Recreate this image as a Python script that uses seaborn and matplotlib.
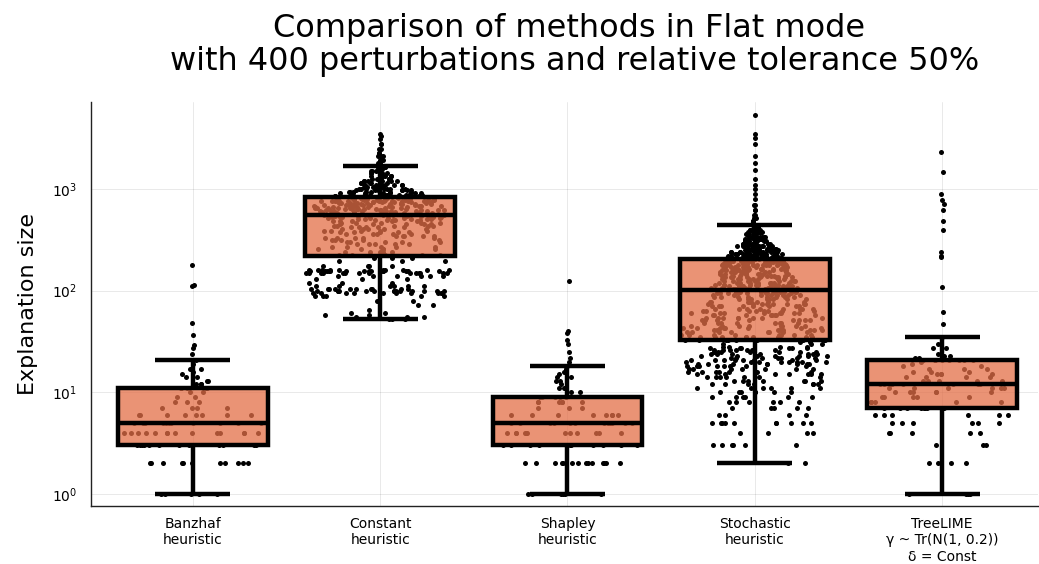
import numpy as np
import pandas as pd
import matplotlib
matplotlib.use("Agg")
import matplotlib.pyplot as plt
import seaborn as sns

# metodos comparados (rotulos do eixo x)
metodos = ["Banzhaf\nheuristic", "Constant\nheuristic", "Shapley\nheuristic",
           "Stochastic\nheuristic", "TreeLIME\nγ ~ Tr(N(1, 0.2))\nδ = Const"]

# tamanhos de explicacao: valores e quantas vezes aparecem
banzhaf_val = [1, 2, 3, 4, 5, 6, 7, 8, 9, 10, 11, 12, 13, 14, 15, 16, 17, 19, 21,
               24, 27, 29, 37, 48, 110, 115, 180]
banzhaf_cnt = [5, 11, 12, 14, 12, 8, 4, 3, 2, 2, 5, 3, 2, 2, 1, 1, 2, 1, 1,
               1, 1, 1, 1, 1, 1, 1, 1]

constant_val = [53, 55, 57, 60, 65, 72, 80, 88, 95, 100, 105, 110, 120, 130, 140,
                150, 155, 160, 175, 195, 210,
                225, 240, 255, 270, 285, 300, 315, 330, 345, 360, 375, 390, 405,
                420, 435, 450, 465, 480, 495, 510, 525, 535, 545, 550,
                560, 575, 590, 605, 620, 635, 650, 665, 680, 695, 710, 725, 740,
                755, 770, 785, 800, 820,
                850, 880, 910, 940, 970, 1000, 1050, 1100, 1150, 1200, 1270, 1350,
                1430, 1500, 1580, 1650, 1700, 1800, 1950, 2100, 2250, 2500, 2800,
                3100, 3300, 3500]
constant_cnt = [3, 3, 2, 2, 1, 2, 2, 5, 10, 14, 10, 6, 3, 3, 6,
                14, 14, 10, 4, 3, 3,
                5, 5, 5, 5, 5, 5, 5, 5, 5, 5, 5, 5, 5,
                5, 5, 5, 5, 5, 5, 5, 5, 5, 5, 5,
                6, 6, 7, 7, 7, 7, 7, 7, 7, 7, 7, 7, 7,
                7, 7, 6, 6, 5,
                8, 8, 8, 7, 7, 7, 7, 7, 6, 6, 6, 6,
                5, 5, 5, 2, 2, 3, 3, 3, 2, 2, 2,
                1, 1, 1]

shapley_val = [1, 2, 3, 4, 5, 6, 7, 8, 9, 10, 11, 12, 13, 14, 15, 16, 17, 18,
               20, 22, 25, 30, 33, 38, 40, 125]
shapley_cnt = [6, 14, 10, 12, 12, 8, 3, 6, 6, 2, 2, 1, 2, 2, 1, 1, 1, 1,
               1, 1, 1, 1, 1, 1, 1, 1]

stochastic_val = [2, 3, 4, 5, 6, 7, 8, 9, 10, 11, 12, 13, 14, 15, 16, 17, 18, 19,
                  20, 21, 22, 23, 24, 25, 26, 27, 28, 30, 31,
                  33, 35, 37, 39, 41, 43, 45, 48, 51, 54, 57, 60, 63, 66, 70, 74,
                  78, 82, 86, 90, 94, 98,
                  103, 107, 111, 115, 120, 125, 130, 135, 140, 146, 152, 158, 164,
                  170, 177, 184, 191, 198, 203,
                  210, 220, 230, 240, 250, 260, 275, 290, 305, 320, 340, 360, 380,
                  400, 420, 445, 480, 520, 560, 620, 700, 800, 900, 1000, 1100,
                  1250, 1550, 1800, 2100, 2800, 3200, 3500, 5300]
stochastic_cnt = [2, 6, 4, 10, 4, 5, 6, 6, 7, 6, 7, 7, 7, 7, 7, 7, 8, 8,
                  8, 8, 7, 7, 7, 7, 7, 6, 4, 3, 2,
                  9, 9, 8, 8, 8, 8, 8, 8, 8, 8, 8, 8, 8, 8, 8, 8,
                  8, 8, 8, 8, 9, 9,
                  9, 9, 9, 9, 9, 9, 9, 9, 9, 9, 10, 10, 10,
                  10, 10, 10, 10, 10, 10,
                  13, 13, 12, 13, 12, 12, 11, 11, 10, 10, 9, 8, 7,
                  6, 5, 4, 3, 3, 2, 2, 2, 1, 1, 1, 1,
                  1, 1, 1, 1, 1, 1, 1, 1]

treelime_val = [1, 2, 3, 4, 5, 6, 7, 8, 9, 10, 11, 12, 13, 14, 15, 16, 17, 18,
                19, 20, 21, 22, 23, 24, 27, 30, 35, 47, 62, 108, 213, 218, 240,
                400, 480, 620, 720, 780, 890, 1470, 2300]
treelime_cnt = [4, 4, 3, 5, 6, 6, 8, 5, 5, 6, 6, 8, 5, 4, 4, 3, 3, 2,
                1, 1, 8, 2, 2, 1, 2, 1, 1, 1, 1, 1, 1, 1, 1,
                1, 1, 1, 1, 1, 1, 1, 1]

grupos = [(banzhaf_val, banzhaf_cnt), (constant_val, constant_cnt),
          (shapley_val, shapley_cnt), (stochastic_val, stochastic_cnt),
          (treelime_val, treelime_cnt)]

linhas = []
for nome, (vals, cnts) in zip(metodos, grupos):
    for v in np.repeat(vals, cnts):
        linhas.append({"metodo": nome, "tamanho": float(v)})
df = pd.DataFrame(linhas)

cor_caixa = (227 / 255, 111 / 255, 71 / 255, 0.75)
JITTER = 0.38

sns.set_style("white")
plt.rcParams['font.family'] = ['DejaVu Sans']

fig = plt.figure(figsize=(10.39, 5.64), dpi=100)
ax = fig.add_axes([0.0876, 0.1028, 0.9114, 0.716])

sns.stripplot(data=df, x="metodo", y="tamanho", order=metodos, color="black",
              jitter=JITTER, size=3.6, linewidth=0, ax=ax, zorder=2)

# espalhamento proporcional a densidade (kde na escala linear, como no Julia)
for i, col in enumerate(ax.collections[:len(metodos)]):
    pts = np.asarray(col.get_offsets()).copy()
    y = pts[:, 1]
    q1, q3 = np.percentile(y, [25, 75])
    bw = 0.9 * min(y.std(), (q3 - q1) / 1.34) * len(y) ** -0.2
    dens = np.exp(-0.5 * ((y[:, None] - y[None, :]) / bw) ** 2).sum(axis=1)
    dens = dens / dens.max()
    pts[:, 0] = i + (pts[:, 0] - i) / JITTER * 0.4 * dens
    col.set_offsets(pts)

sns.boxplot(data=df, x="metodo", y="tamanho", order=metodos, color="#E36F47",
            saturation=1, width=0.8, whis=1.5, showfliers=False,
            linecolor="black", linewidth=3.2, ax=ax, zorder=3)
for p in ax.patches:
    p.set_facecolor(cor_caixa)
    p.set_zorder(3)
for ln in ax.lines:
    ln.set_zorder(4)
    ln.set_solid_capstyle("butt")

ax.set_yscale("log")
ax.set_ylim(0.76, 7160)
ax.set_xlim(-0.544, 4.512)
ax.minorticks_off()
ax.set_yticks([1, 10, 100, 1000])

ax.grid(True, color="black", alpha=0.1, linewidth=0.6)
ax.set_axisbelow(True)
for lado in ["top", "right"]:
    ax.spines[lado].set_visible(False)
for lado in ["left", "bottom"]:
    ax.spines[lado].set_color("#222222")
    ax.spines[lado].set_linewidth(1.0)
ax.tick_params(axis="both", direction="in", length=4, width=0.8, labelsize=10,
               colors="black")
ax.tick_params(axis="x", pad=8)
ax.tick_params(axis="y", pad=10)
ax.set_xlabel("")
ax.set_ylabel("Explanation size", fontsize=16, labelpad=10, color="black")

fig.text(569 / 1039, 1 - 37 / 564, "Comparison of methods in Flat mode",
         ha="center", va="baseline", fontsize=23, color="black")
fig.text(575 / 1039, 1 - 70 / 564, "with 400 perturbations and relative tolerance 50%",
         ha="center", va="baseline", fontsize=23, color="black")

fig.savefig("out.png", dpi=100)
